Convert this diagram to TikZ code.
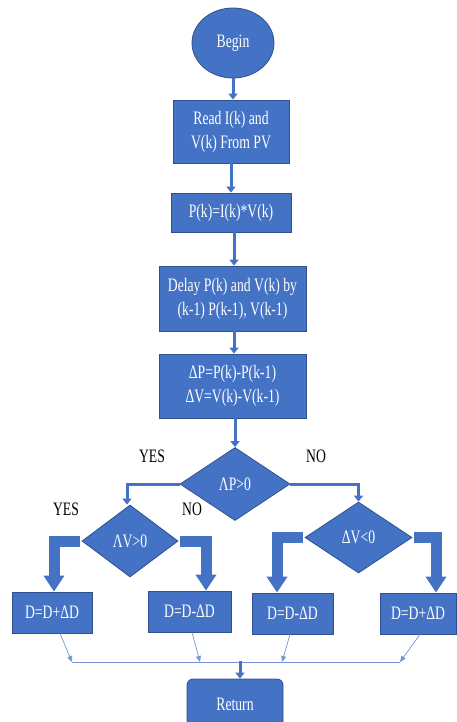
\documentclass[tikz,border=0pt]{standalone}
\usepackage{fontspec}
\setmainfont{Liberation Serif}[FakeStretch=0.72]
\usetikzlibrary{shapes.geometric,arrows.meta,calc}
\definecolor{obl}{HTML}{4472C4}
\definecolor{obd}{HTML}{2F528F}
\begin{document}
\begin{tikzpicture}[x=1pt,y=-1pt,
  every node/.style={font=\fontsize{19}{24}\selectfont},
  blk/.style={draw=obd,line width=0.8pt,fill=obl,text=white,inner sep=0pt,align=center},
  rbox/.style={blk,rectangle},
  dbox/.style={blk,diamond},
  lbl/.style={text=black,inner sep=0pt},
  conn/.style={draw=obl,line width=3pt,-{Triangle[width=9pt,length=6pt]}},
  bent/.style={draw=obl,line width=11pt,-{Triangle[width=20pt,length=16pt]}},
  thin/.style={draw=obl!75,line width=0.7pt,-{Triangle[width=5pt,length=6pt]}},
  thinl/.style={draw=obl!75,line width=0.7pt}]
\useasboundingbox (0,0) rectangle (457,722);
\node[blk,ellipse,minimum width=82pt,minimum height=70pt] (begin) at (233,43) {Begin};
\node[rbox,minimum width=116pt,minimum height=63pt] (read) at (231,131.5) {Read I(k) and\\V(k) From PV};
\node[rbox,minimum width=120pt,minimum height=39pt] (pk) at (231,212.5) {P(k)=I(k)*V(k)};
\node[rbox,minimum width=147pt,minimum height=65pt] (delay) at (232.5,298.5) {Delay P(k) and V(k) by\\(k-1) P(k-1), V(k-1)};
\node[rbox,minimum width=147pt,minimum height=64pt] (dp) at (232.5,386) {ΔP=P(k)-P(k-1)\\ΔV=V(k)-V(k-1)};
\node[dbox,minimum width=110pt,minimum height=73pt] (md) at (235,484) {ΛP>0};
\node[dbox,minimum width=96pt,minimum height=72pt] (ld) at (130,541) {ΛV>0};
\node[dbox,minimum width=107pt,minimum height=71pt] (rd) at (358.5,537.5) {ΔV<0};
\node[rbox,minimum width=80pt,minimum height=41pt] (b1) at (52,612.5) {D=D+ΔD};
\node[rbox,minimum width=83pt,minimum height=41pt] (b2) at (189.5,611.5) {D=D-ΔD};
\node[rbox,minimum width=81pt,minimum height=41pt] (b3) at (292.5,613.5) {D=D-ΔD};
\node[rbox,minimum width=76pt,minimum height=41pt] (b4) at (418,613.5) {D=D+ΔD};
\node[rbox,rounded corners=6pt,minimum width=96pt,minimum height=50pt] (ret) at (235,704) {Return};
\node[lbl] (yes1) at (152,456) {YES};
\node[lbl] (no1) at (316,456) {NO};
\node[lbl] (yes2) at (66,509) {YES};
\node[lbl] (no2) at (192,509) {NO};
% vertical flow
\draw[conn] (begin.south) -- (begin.south |- read.north);
\draw[conn] (read.south) -- (read.south |- pk.north);
\draw[conn] ([xshift=3pt]pk.south) -- ([xshift=3pt]pk.south |- delay.north);
\draw[conn] ([xshift=1.5pt]delay.south) -- ([xshift=1.5pt]delay.south |- dp.north);
\draw[conn] ([xshift=2.5pt]dp.south) -- (md.north);
% main decision
\draw[conn] (md.west) -| ([xshift=-3pt]ld.north);
\draw[conn] (md.east) -| (rd.north);
% bent block arrows
\draw[bent] ([xshift=-2pt]ld.west) -| ([xshift=2pt]b1.north);
\draw[bent] ([xshift=2pt]ld.east) -| ([xshift=16.5pt]b2.north);
\draw[bent] ([xshift=-2pt]rd.west) -| ([xshift=-15.5pt]b3.north);
\draw[bent] ([xshift=2pt]rd.east) -| ([xshift=18pt]b4.north);
% merge
\coordinate (m1) at (72,662);
\coordinate (m2) at (200,662);
\coordinate (m3) at (282,662);
\coordinate (m4) at (400,662);
\coordinate (mc) at (240,661);
\draw[thinl] (m1) -- (m4);
\draw[thin] ([xshift=8pt]b1.south) -- (m1);
\draw[thin] ([xshift=2.5pt]b2.south) -- (m2);
\draw[thin] ([xshift=-2.5pt]b3.south) -- (m3);
\draw[thin] ([xshift=2pt]b4.south) -- (m4);
\draw[conn] (mc) -- (mc |- ret.north);
\end{tikzpicture}
\end{document}
